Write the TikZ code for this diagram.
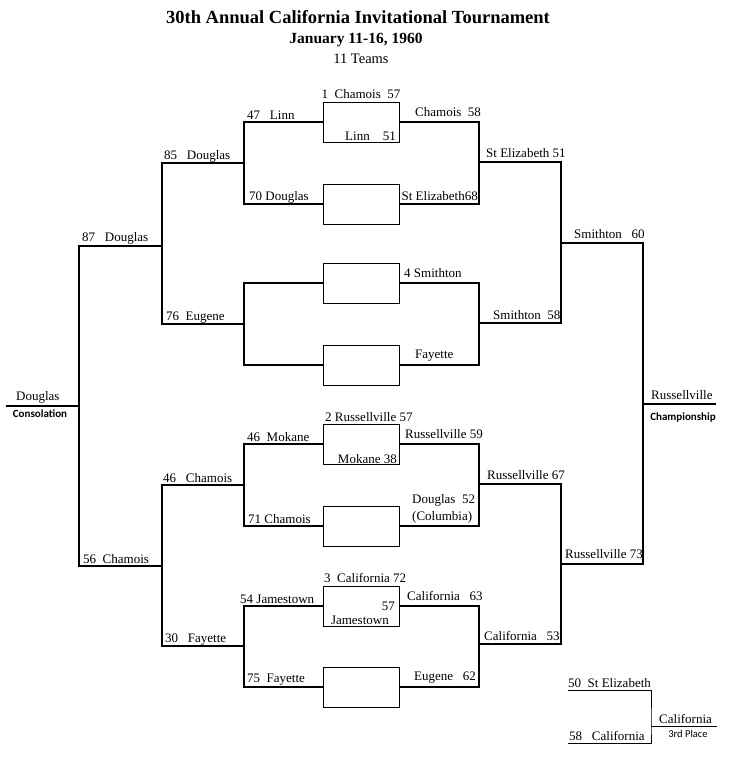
\documentclass[tikz,border=0pt]{standalone}
\usepackage{fontspec}
\setmainfont{Liberation Serif}
\newfontfamily\sanscal{Carlito}
\usetikzlibrary{calc}

\begin{document}
\begin{tikzpicture}[x=1pt,y=-1pt,
  box/.style={draw,line width=0.9pt,minimum width=76pt,minimum height=40pt,inner sep=0pt},
  tratto/.style={line width=2.3pt},
  sottile/.style={line width=0.9pt},
  lab/.style={inner sep=0pt,anchor=base west,font=\fontsize{13}{15}\selectfont},
  labdx/.style={lab,anchor=base east},
  dicitura/.style={inner sep=0pt,font=\sanscal\bfseries\fontsize{11}{13}\selectfont}]

\useasboundingbox (0,0) rectangle (730,764);

\pgfmathsetmacro{\xbox}{361}

\node[font=\bfseries\fontsize{18.5}{20}\selectfont,anchor=base,inner sep=0pt] (titolo) at (358,23) {30th Annual California Invitational Tournament};
\node[font=\bfseries\fontsize{15.5}{17}\selectfont,anchor=base,inner sep=0pt] (data) at (356,43) {January 11-16, 1960};
\node[font=\fontsize{14.5}{16}\selectfont,anchor=base,inner sep=0pt] (squadre) at (361,63) {11 Teams};

\foreach \n/\y in {1/122,2/204,3/283,4/365,5/444,6/526,7/606,8/687}
  \node[box] (Box\n) at (\xbox,\y) {};

% lato sinistro
\coordinate (sx1) at (244,163);
\coordinate (sx2) at (244,324);
\coordinate (sx3) at (244,485);
\coordinate (sx4) at (244,646);
\coordinate (sx5) at (162,246);
\coordinate (sx6) at (162,566);
\coordinate (sx7) at (79,406);
\coordinate (cons) at (6,406);

% lato destro
\coordinate (dx1) at (479,162);
\coordinate (dx2) at (479,323);
\coordinate (dx3) at (479,484);
\coordinate (dx4) at (479,644);
\coordinate (dx5) at (561,243);
\coordinate (dx6) at (561,564);
\coordinate (dx7) at (643,404);
\coordinate (champ) at (716,404);

\foreach \i/\j/\k in {1/2/1,3/4/2,5/6/3,7/8/4} {
  \draw[tratto] (Box\i.west) -| (sx\k) |- (Box\j.west);
  \draw[tratto] (Box\i.east) -| (dx\k) |- (Box\j.east);
}
\draw[tratto] (sx1) -| (sx5) |- (sx2);
\draw[tratto] (sx3) -| (sx6) |- (sx4);
\draw[tratto] (sx5) -| (sx7) |- (sx6);
\draw[tratto] (sx7) -- (cons);
\draw[tratto] (dx1) -| (dx5) |- (dx2);
\draw[tratto] (dx3) -| (dx6) |- (dx4);
\draw[tratto] (dx5) -| (dx7) |- (dx6);
\draw[tratto] (dx7) -- (champ);

% terzo posto
\coordinate (tp1) at (568,690);
\coordinate (tp2) at (568,743);
\coordinate (tpj) at (651,726);
\coordinate (tpe) at (717,726);
\draw[sottile] (tp1) -| (tpj) |- (tp2);
\draw[sottile] (tpj) -- (tpe);

% squadre e punteggi
\node[lab,anchor=base] (c1) at (\xbox,98) {1~~Chamois~~57};
\node[labdx] (c2) at (396,140) {Linn~~~~51};
\node[lab] (c3) at (247,119) {47~~~Linn};
\node[lab] (c4) at (249,200) {70 Douglas};
\node[lab] (c5) at (164,159) {85~~~Douglas};
\node[lab] (c6) at (82,241) {87~~~Douglas};
\node[lab] (c7) at (166,320) {76~~Eugene};
\node[lab] (c8) at (16,400) {Douglas};
\node[dicitura] (cons1) at (40,414) {Consolation};
\node[lab] (c9) at (247,441) {46~~Mokane};
\node[lab] (c10) at (163,482) {46~~~Chamois};
\node[lab] (c11) at (248,523) {71 Chamois};
\node[lab] (c12) at (83,563) {56~~Chamois};
\node[lab] (c13) at (240,603) {54 Jamestown};
\node[lab] (c14) at (165,642) {30~~~Fayette};
\node[lab] (c15) at (247,682) {75~~Fayette};
\node[lab] (c16) at (325,421) {2 Russellville 57};
\node[labdx] (c17) at (397,463) {Mokane 38};
\node[lab] (c18) at (324,582) {3~~California 72};
\node[labdx] (c19) at (395,610) {57};
\node[labdx] (c20) at (389,624) {Jamestown};

\node[lab] (d1) at (415,116) {Chamois~~58};
\node[lab] (d2) at (486,157) {St Elizabeth 51};
\node[labdx] (d3) at (478,200) {St Elizabeth68};
\node[lab] (d4) at (574,238) {Smithton~~~60};
\node[lab] (d5) at (404,277) {4 Smithton};
\node[lab] (d6) at (493,319) {Smithton~~58};
\node[lab] (d7) at (415,358) {Fayette};
\node[lab] (d8) at (405,438) {Russellville 59};
\node[lab] (d9) at (487,479) {Russellville 67};
\node[lab] (d10) at (412,503) {Douglas~~52};
\node[lab] (d11) at (412,520) {(Columbia)};
\node[lab] (d12) at (565,558) {Russellville 73};
\node[lab] (d13) at (651,399) {Russellville};
\node[dicitura] (champ1) at (683,417) {Championship};
\node[lab] (d14) at (407,600) {California~~~63};
\node[lab] (d15) at (484,640) {California~~~53};
\node[lab] (d16) at (414,680) {Eugene~~~62};

\node[lab] (t1) at (568,687) {50~~St Elizabeth};
\node[lab] (t2) at (569,740) {58~~~California};
\node[lab] (t3) at (659,723) {California};
\node[dicitura,font=\sanscal\fontsize{10.5}{12}\selectfont] (terzo) at (688,734) {3rd Place};

\end{tikzpicture}
\end{document}
